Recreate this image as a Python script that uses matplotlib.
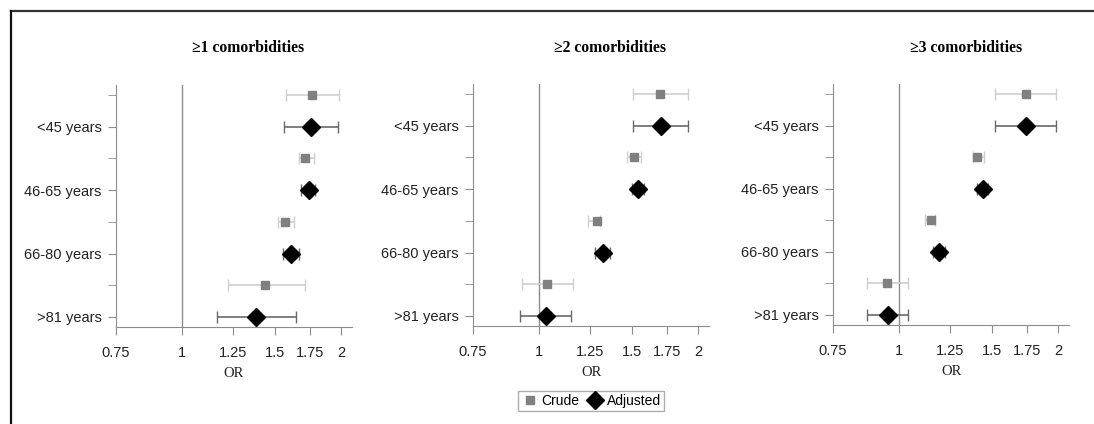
import matplotlib.pyplot as plt
from matplotlib.lines import Line2D
import numpy as np

# data
groups = ["<45 years", "46-65 years", "66-80 years", ">81 years"]
titles = ["\u22651 comorbidities", "\u22652 comorbidities", "\u22653 comorbidities"]

crude_or = [[1.765, 1.714, 1.570, 1.439],
            [1.695, 1.515, 1.286, 1.035],
            [1.737, 1.407, 1.148, 0.949]]
crude_lo = [[1.574, 1.670, 1.518, 1.221],
            [1.507, 1.470, 1.240, 0.927],
            [1.520, 1.383, 1.122, 0.870]]
crude_hi = [[1.988, 1.781, 1.632, 1.712],
            [1.915, 1.558, 1.308, 1.160],
            [1.983, 1.449, 1.170, 1.042]]

adj_or = [[1.757, 1.742, 1.611, 1.380],
          [1.700, 1.542, 1.320, 1.030],
          [1.742, 1.440, 1.189, 0.952]]
adj_lo = [[1.561, 1.680, 1.554, 1.164],
          [1.507, 1.502, 1.278, 0.920],
          [1.520, 1.405, 1.161, 0.870]]
adj_hi = [[1.979, 1.789, 1.670, 1.642],
          [1.915, 1.580, 1.361, 1.150],
          [1.983, 1.476, 1.222, 1.042]]

xticks = [0.75, 1, 1.25, 1.5, 1.75, 2]
xtick_labels = ["0.75", "1", "1.25", "1.5", "1.75", "2"]

W, H = 1094, 424
fig = plt.figure(figsize=(W / 100, H / 100), dpi=100)

# axes boxes in pixels (left, right, top, bottom)
boxes = [(116, 352, 85, 327), (473, 709, 84, 326), (833, 1069, 84, 325)]
title_x = [248, 610, 966]

sans = ["Liberation Sans", "DejaVu Sans"]
serif = ["Liberation Serif", "DejaVu Serif"]

for k in range(3):
    l, r, t, b = boxes[k]
    ax = fig.add_axes([l / W, 1 - b / H, (r - l) / W, (b - t) / H])
    ax.set_xscale("log")
    ax.set_xlim(0.75, 2.1)
    ax.set_ylim(7.32, -0.32)

    y_crude = np.arange(4) * 2
    y_adj = np.arange(4) * 2 + 1

    ax.axvline(1, color="#8c8c8c", lw=1, zorder=1)

    c = np.array(crude_or[k])
    ax.errorbar(c, y_crude,
                xerr=[c - np.array(crude_lo[k]), np.array(crude_hi[k]) - c],
                fmt="s", ms=6, color="#808080", ecolor="#cfcfcf",
                elinewidth=1.2, capsize=4.5, capthick=1, zorder=3)
    a = np.array(adj_or[k])
    ax.errorbar(a, y_adj,
                xerr=[a - np.array(adj_lo[k]), np.array(adj_hi[k]) - a],
                fmt="D", ms=9, color="black", ecolor="#6a6a6a",
                elinewidth=1.2, capsize=4.5, capthick=1, zorder=3)

    ax.set_xticks(xticks)
    ax.set_xticklabels(xtick_labels, family=sans, fontsize=10.5, color="#222222")
    ax.xaxis.set_minor_locator(plt.NullLocator())
    ax.set_yticks(y_adj)
    ax.set_yticklabels(groups, family=sans, fontsize=10.5, color="#222222")
    ax.set_yticks(y_crude, minor=True)
    ax.tick_params(axis="both", which="both", length=5.5, color="#8c8c8c")
    ax.tick_params(axis="x", pad=8)
    ax.tick_params(axis="y", which="major", pad=5)

    for s in ["top", "right"]:
        ax.spines[s].set_visible(False)
    for s in ["left", "bottom"]:
        ax.spines[s].set_color("#8c8c8c")

    ax.set_xlabel("OR", family=serif, fontsize=10.5, color="#222222", labelpad=5)

    fig.text(title_x[k] / W, 1 - 48 / H, titles[k], family=serif,
             fontweight="bold", fontsize=11.3, ha="center", va="center")

# legend
handles = [Line2D([], [], marker="s", ls="", color="#808080", ms=6),
           Line2D([], [], marker="D", ls="", color="black", ms=9)]
fig.legend(handles, ["Crude", "Adjusted"], loc="center",
           bbox_to_anchor=(591 / W, 1 - 401 / H), ncol=2, frameon=True,
           fancybox=False, edgecolor="#999999", prop={"family": sans, "size": 10},
           handletextpad=0.2, columnspacing=0.6, handlelength=1.2,
           borderpad=0.25)

# outer frame (top and left edges)
fig.add_artist(Line2D([11 / W, 1], [1 - 11 / H, 1 - 11 / H], color="#333333", lw=1.6))
fig.add_artist(Line2D([11 / W, 11 / W], [0, 1 - 11 / H], color="#111111", lw=1.6))

fig.savefig("out.png", dpi=100)
